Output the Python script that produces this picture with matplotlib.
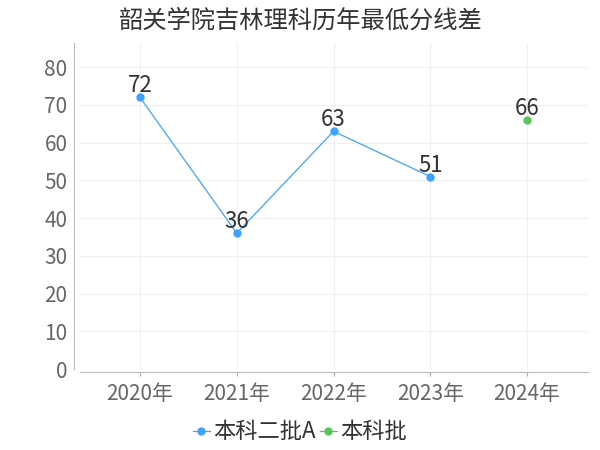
import matplotlib
matplotlib.use("Agg")
import matplotlib.pyplot as plt

plt.rcParams['font.family'] = ['Noto Sans CJK SC', 'DejaVu Sans']

years = ['2020年', '2021年', '2022年', '2023年', '2024年']
erpi_a = [72, 36, 63, 51, None]
benke = [None, None, None, None, 66]

blue = '#3fa2ff'
green = '#5bc45b'

fig = plt.figure(figsize=(6, 4.5), dpi=100)
ax = fig.add_axes([0.1333, 0.18, 0.8467, 0.7244])

x = list(range(len(years)))
xa = [i for i, v in zip(x, erpi_a) if v is not None]
ya = [v for v in erpi_a if v is not None]
xb = [i for i, v in zip(x, benke) if v is not None]
yb = [v for v in benke if v is not None]

ax.plot(xa, ya, color=blue, lw=0.9, marker='o', ms=5, label='本科二批A', zorder=3)
ax.plot(xb, yb, color='#999999', lw=0.9, marker='o', ms=5, mfc=green, mec=green,
        linestyle='None', label='本科批', zorder=3)

for i, v in zip(xa + xb, ya + yb):
    ax.text(i, v + 1.3, str(v), ha='center', va='baseline', fontsize=16, color='#333333')

ax.set_xlim(-0.62, 4.63)
ax.set_ylim(0, 86.4)
ax.set_yticks(range(0, 81, 10))
ax.set_xticks(x)
ax.set_xticklabels(years)
ax.tick_params(axis='both', labelsize=15, colors='#666666', length=0, pad=5)
ax.tick_params(axis='x', length=3, color='#aaaaaa', pad=5)
ax.grid(True, color='#f0f0f0', lw=0.8)
ax.set_axisbelow(True)
for s in ['top', 'right']:
    ax.spines[s].set_visible(False)
for s in ['left', 'bottom']:
    ax.spines[s].set_color('#bbbbbb')
ax.spines['left'].set_position(('outward', 4))
ax.spines['bottom'].set_position(('outward', 2))

fig.text(0.5, 0.955, '韶关学院吉林理科历年最低分线差', ha='center', va='center',
         fontsize=17.5, color='#333333')

leg = fig.legend(handles=ax.get_lines(), loc='center', bbox_to_anchor=(0.5, 0.04),
                 ncol=2, frameon=False, fontsize=16, handlelength=0.75,
                 handletextpad=0.15, columnspacing=0.2, labelcolor='#333333')
leg.legend_handles[1].set_linestyle('-')

fig.savefig('out.png', dpi=100)
